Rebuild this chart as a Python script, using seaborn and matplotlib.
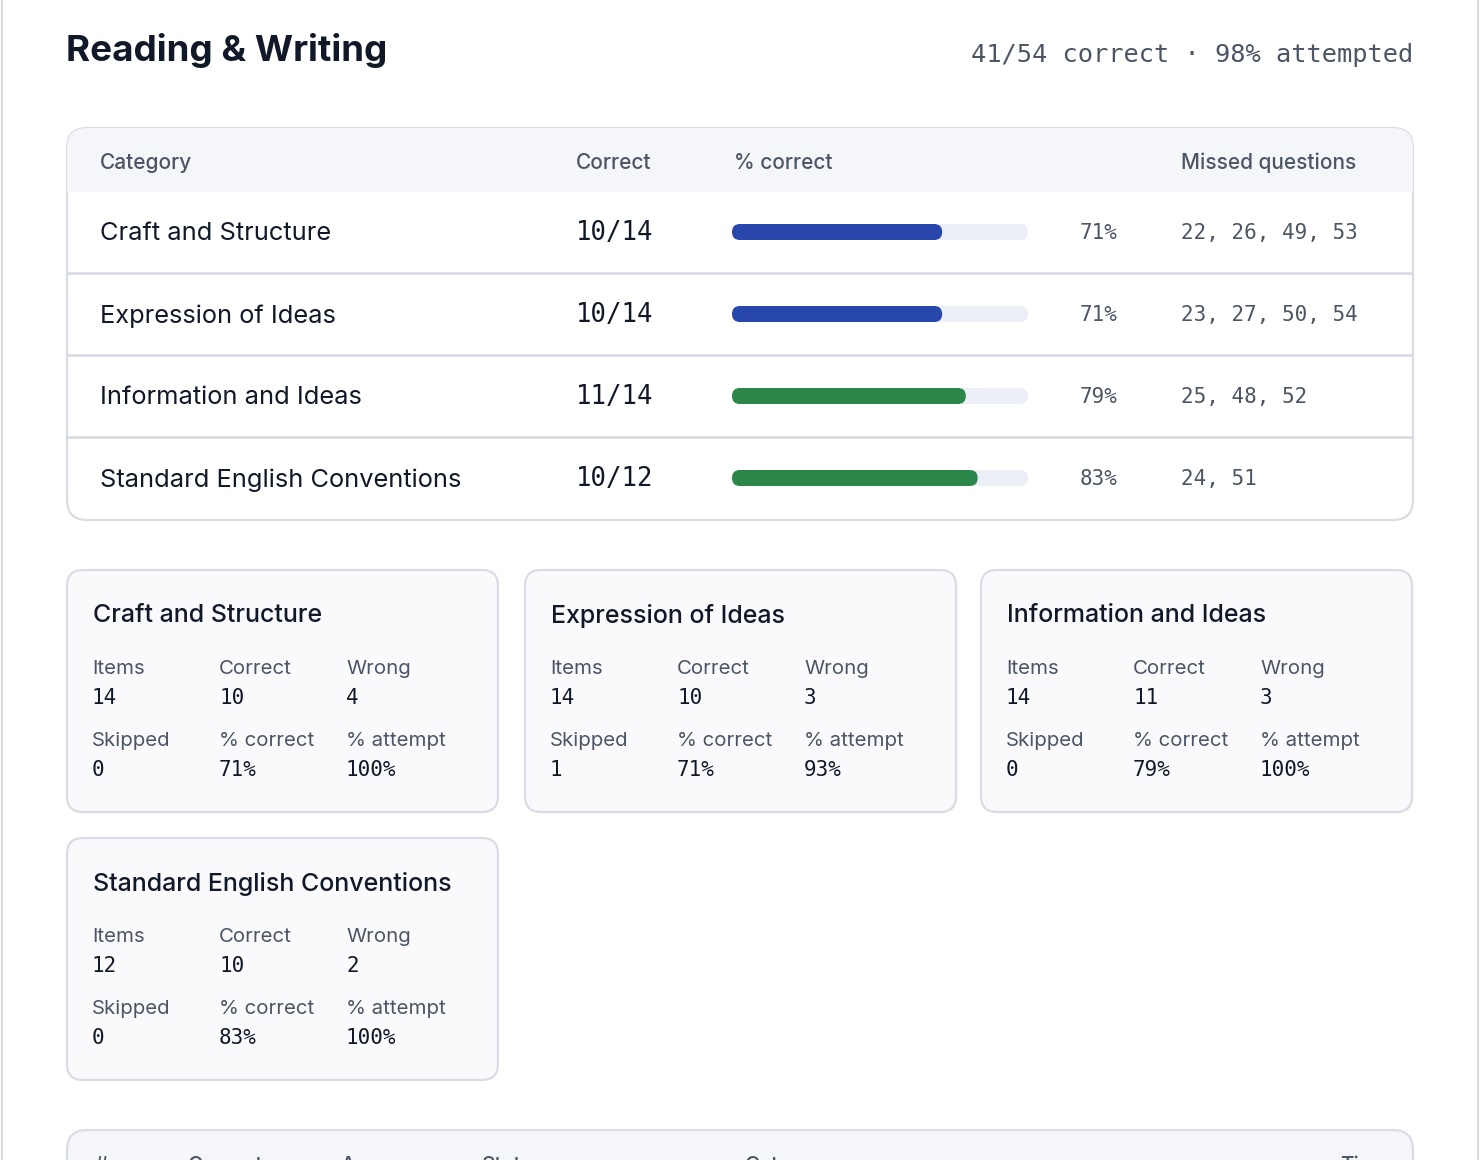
import matplotlib
matplotlib.use("Agg")
import matplotlib.pyplot as plt
from matplotlib.patches import FancyBboxPatch, Rectangle
import seaborn as sns
import pandas as pd

# ---- data ----
categories = ["Craft and Structure", "Expression of Ideas",
              "Information and Ideas", "Standard English Conventions"]
items = [14, 14, 14, 12]
correct = [10, 10, 11, 10]
wrong = [4, 3, 3, 2]
skipped = [0, 1, 0, 0]
pct_correct = [71, 71, 79, 83]
pct_attempt = [100, 93, 100, 100]
missed = [[22, 26, 49, 53], [23, 27, 50, 54], [25, 48, 52], [24, 51]]
table_cols = ["Category", "Correct", "% correct", "Missed questions"]
card_labels = ["Items", "Correct", "Wrong", "Skipped", "% correct", "% attempt"]
detail_cols = ["#", "Correct", "Answer", "Status", "Category", "Time"]

total_correct = sum(correct)
total_items = sum(items)
attempted = round(100 * (total_items - sum(skipped)) / total_items)

INK = "#111827"
GREY = "#4B5563"
BORDER = "#D9DCE3"
BLUE = "#2747AD"
GREEN = "#2E874A"
TRACK = "#ECEFF6"
SANS = ["Inter", "DejaVu Sans"]
MONO = ["DejaVu Sans Mono"]

sns.set_theme(style="white")
plt.rcParams["font.family"] = SANS

W, H = 1480, 1160
fig = plt.figure(figsize=(W / 100, H / 100), dpi=100)
ax = fig.add_axes([0, 0, 1, 1])
ax.set_xlim(0, W)
ax.set_ylim(H, 0)
ax.axis("off")


def box(x0, y0, x1, y1, fc, r=18, lw=1.6, z=1):
    p = FancyBboxPatch((x0 + r, y0 + r), x1 - x0 - 2 * r, y1 - y0 - 2 * r,
                       boxstyle=f"round,pad={r}", fc=fc, ec=BORDER, lw=lw, zorder=z)
    ax.add_patch(p)
    return p


# page edges
ax.plot([1.5, 1.5], [0, H], color=BORDER, lw=1.5)
ax.plot([1477.5, 1477.5], [0, H], color=BORDER, lw=1.5)

# title + summary
ax.text(66, 51, "Reading & Writing", fontsize=26.5, fontweight="bold", color=INK,
        va="center", ha="left")
ax.text(1413, 55, f"{total_correct}/{total_items} correct · {attempted}% attempted",
        fontsize=18.3, family=MONO, color=GREY, va="center", ha="right")

# ---- summary table ----
tx0, ty0, tx1, ty1 = 67, 128, 1413, 520
frame = box(tx0, ty0, tx1, ty1, "white", r=20, z=1)
hdr = Rectangle((tx0, ty0), tx1 - tx0, 64, fc="#F5F6FA", ec="none", zorder=1.5)
hdr.set_clip_path(frame)
ax.add_patch(hdr)
for x, lab in zip([100, 576, 734, 1181], table_cols):
    ax.text(x, 163, lab, fontsize=15, fontweight="medium", color=GREY,
            va="center", ha="left", zorder=3)

row_y = [232, 314, 396, 478]
for i, cat in enumerate(categories):
    y = row_y[i]
    ax.text(100, y + 2, cat, fontsize=18.3, color=INK, va="center", zorder=3)
    ax.text(576, y + 1, f"{correct[i]}/{items[i]}", fontsize=18.5, family=MONO,
            color=INK, va="center", zorder=3)
    ax.text(1080, y + 1, f"{pct_correct[i]}%", fontsize=15, family=MONO,
            color=GREY, va="center", zorder=3)
    ax.text(1181, y + 1, ", ".join(str(m) for m in missed[i]), fontsize=15,
            family=MONO, color=GREY, va="center", zorder=3)
    if i > 0:
        ln, = ax.plot([tx0, tx1], [y - 41, y - 41], color=BORDER, lw=2, zorder=2)
        ln.set_clip_path(frame)

# progress bars with seaborn on an axes laid over the bar column
bx0, bx1, by0, by1 = 732, 1028, 191, 519
bax = fig.add_axes([bx0 / W, 1 - by1 / H, (bx1 - bx0) / W, (by1 - by0) / H])
df = pd.DataFrame({"category": categories, "pct": pct_correct,
                   "track": [100] * len(categories)})
bar_w = 16 / 82
sns.barplot(data=df, x="track", y="category", orient="h", color=TRACK,
            width=bar_w, ax=bax, saturation=1)
pal = [GREEN if p >= 75 else BLUE for p in pct_correct]
sns.barplot(data=df, x="pct", y="category", hue="category", orient="h",
            palette=pal, width=bar_w, ax=bax, saturation=1, legend=False)
bax.set_xlim(0, 100)
bax.set_ylim(len(categories) - 0.5, -0.5)
bax.axis("off")
bax.patch.set_alpha(0)

x_per_px = 100 / (bx1 - bx0)
y_per_px = len(categories) / (by1 - by0)
rad = 8 * x_per_px
for p in list(bax.patches):
    x, y = p.get_x(), p.get_y()
    w, h = p.get_width(), p.get_height()
    if w <= 0:
        p.remove()
        continue
    fb = FancyBboxPatch((x, y), w, h,
                        boxstyle=f"round,pad=0,rounding_size={rad}",
                        mutation_aspect=y_per_px / x_per_px,
                        fc=p.get_facecolor(), ec="none", zorder=p.get_zorder())
    p.remove()
    bax.add_patch(fb)

# ---- category cards ----
card_pos = [(67, 570), (525, 570), (981, 570), (67, 838)]
card_w, card_h = 431, 242
for i, (cx, cy) in enumerate(card_pos):
    box(cx, cy, cx + card_w, cy + card_h, "#FAFAFD", r=16, z=1)
    ax.text(cx + 26, cy + 46, categories[i], fontsize=18, fontweight="medium",
            color=INK, va="center", zorder=3)
    vals = [items[i], correct[i], wrong[i], skipped[i],
            f"{pct_correct[i]}%", f"{pct_attempt[i]}%"]
    for k, (lab, v) in enumerate(zip(card_labels, vals)):
        col, row = k % 3, k // 3
        lx = cx + 25 + col * 127
        ly = cy + 99 + row * 72
        ax.text(lx, ly, lab, fontsize=14.7, color=GREY, va="center", zorder=3)
        ax.text(lx, ly + 29, str(v), fontsize=15, family=MONO, color=INK,
                va="center", zorder=3)

# ---- detail table, cut off at the page bottom ----
box(67, 1130, 1413, 1260, "#F5F6FA", r=20, z=1)
for x, lab in zip([95, 188, 340, 482, 745, 1340], detail_cols):
    ax.text(x, 1166, lab, fontsize=15, fontweight="medium", color=GREY,
            va="center", zorder=3)

fig.savefig("out.png", dpi=100, facecolor="white")
